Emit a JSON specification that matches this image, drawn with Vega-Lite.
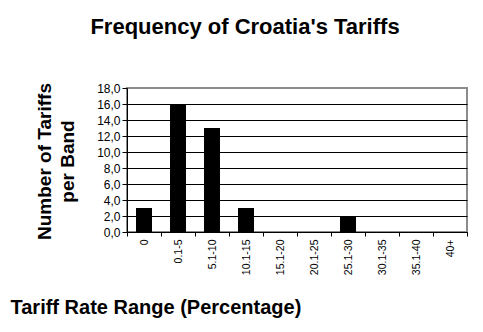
{
  "$schema": "https://vega.github.io/schema/vega-lite/v6.json",
  "width": 340,
  "height": 144,
  "autosize": {"type": "none"},
  "padding": {"left": 127, "top": 88, "right": 16, "bottom": 100},
  "background": "white",
  "title": {
    "text": "Frequency of Croatia's Tariffs",
    "font": "Liberation Sans",
    "fontSize": 22,
    "fontWeight": "bold",
    "color": "black",
    "anchor": "middle",
    "frame": "group",
    "dx": -52,
    "offset": 43
  },
  "data": {
    "values": [
      {"band": "0", "count": 3},
      {"band": "0.1-5", "count": 16},
      {"band": "5.1-10", "count": 13},
      {"band": "10.1-15", "count": 3},
      {"band": "15.1-20", "count": 0},
      {"band": "20.1-25", "count": 0},
      {"band": "25.1-30", "count": 2},
      {"band": "30.1-35", "count": 0},
      {"band": "35.1-40", "count": 0},
      {"band": "40+", "count": 0}
    ]
  },
  "mark": {"type": "bar", "color": "black", "width": {"band": 0.47}},
  "encoding": {
    "x": {
      "field": "band",
      "type": "nominal",
      "sort": null,
      "scale": {"paddingInner": 0, "paddingOuter": 0},
      "axis": {
        "title": "Tariff Rate Range (Percentage)",
        "titleFont": "Liberation Sans",
        "titleFontSize": 20,
        "titleFontWeight": "bold",
        "titleColor": "black",
        "titleAlign": "left",
        "titleBaseline": "alphabetic",
        "titleAnchor": "start",
        "titleX": -117,
        "titleY": 81,
        "labelAngle": 270,
        "labelAlign": "right",
        "labelBaseline": "middle",
        "labelFont": "Liberation Sans",
        "labelFontSize": 10.5,
        "labelColor": "black",
        "labelPadding": 3,
        "tickBand": "extent",
        "tickSize": 4,
        "tickColor": "black",
        "domainColor": "black",
        "grid": false
      }
    },
    "y": {
      "field": "count",
      "type": "quantitative",
      "scale": {"domain": [0, 18], "nice": false},
      "axis": {
        "title": ["Number of Tariffs", "per Band"],
        "titleFont": "Liberation Sans",
        "titleFontSize": 19,
        "titleFontWeight": "bold",
        "titleColor": "black",
        "titleAngle": 270,
        "titleAlign": "center",
        "titleBaseline": "top",
        "titleLineHeight": 23,
        "titleX": -92,
        "titleY": 73,
        "values": [0, 2, 4, 6, 8, 10, 12, 14, 16, 18],
        "labelExpr": "replace(format(datum.value, '.1f'), '.', ',')",
        "labelFont": "Liberation Sans",
        "labelFontSize": 12,
        "labelColor": "black",
        "labelPadding": 2,
        "tickSize": 5,
        "tickColor": "black",
        "domainColor": "black",
        "grid": true,
        "gridColor": {"condition": {"test": "datum.value == 18", "value": "#8c8c8c"}, "value": "black"},
        "gridOpacity": 1
      }
    }
  },
  "config": {
    "view": {"stroke": "#8c8c8c", "strokeWidth": 2}
  }
}
